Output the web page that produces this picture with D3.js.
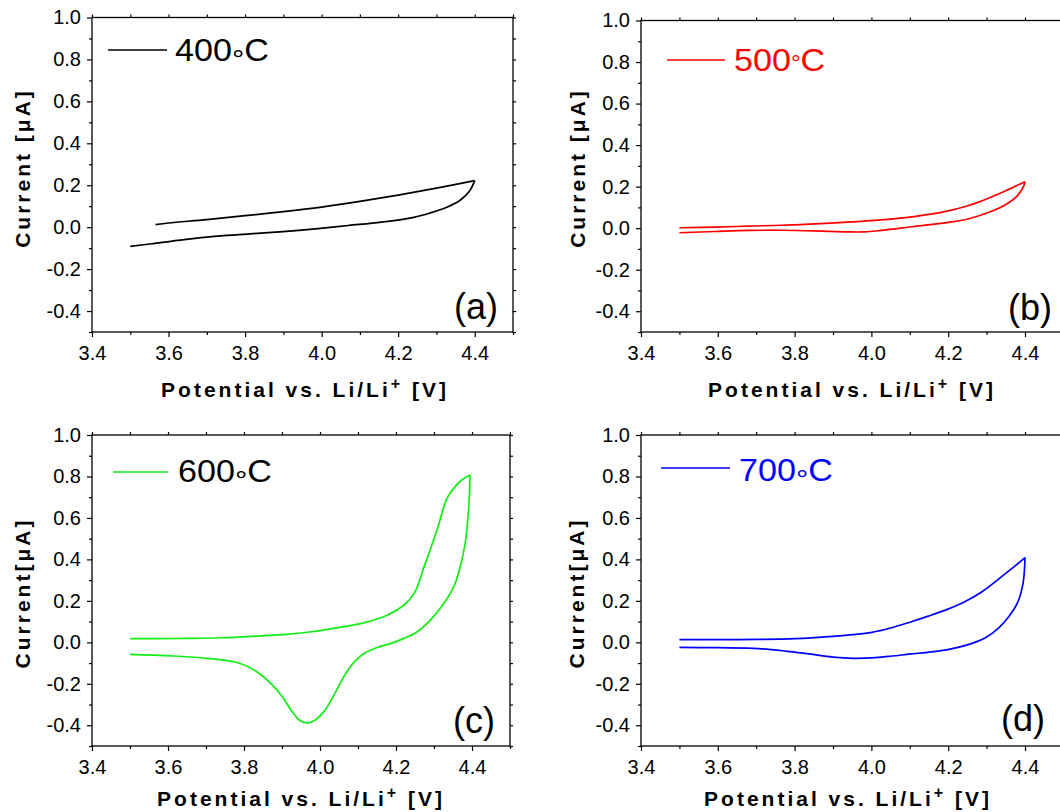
<!DOCTYPE html>
<html>
<head>
<meta charset="utf-8">
<script src="https://cdn.jsdelivr.net/npm/d3@7"></script>
<style>
  body { margin: 0; background: #fff; }
  svg { display: block; font-family: "Liberation Sans", Arial, sans-serif; }
</style>
</head>
<body>
<svg id="chart" width="1060" height="812"></svg>
<script>
// ticks
const xTicks = [3.4, 3.6, 3.8, 4.0, 4.2, 4.4];
const xMinor = [3.5, 3.7, 3.9, 4.1, 4.3, 4.5];
const yTicks = [-0.4, -0.2, 0.0, 0.2, 0.4, 0.6, 0.8, 1.0];
const yMinor = [-0.5, -0.3, -0.1, 0.1, 0.3, 0.5, 0.7, 0.9];

// (a) 400 C : anodic sweep then cathodic sweep
const vUp400 = [3.566, 3.600, 3.700, 3.800, 3.900, 4.000, 4.100, 4.200, 4.300, 4.400];
const iUp400 = [0.012, 0.020, 0.036, 0.055, 0.074, 0.096, 0.123, 0.153, 0.186, 0.222];
const vDn400 = [4.400, 4.387, 4.361, 4.327, 4.284, 4.241, 4.156, 4.070, 3.984, 3.899, 3.813, 3.727, 3.641, 3.556, 3.500];
const iDn400 = [0.222, 0.174, 0.127, 0.095, 0.068, 0.047, 0.024, 0.008, -0.008, -0.021, -0.032, -0.043, -0.059, -0.079, -0.092];

// (b) 500 C
const vUp500 = [3.500, 3.593, 3.679, 3.766, 3.852, 3.938, 4.025, 4.111, 4.197, 4.249, 4.283, 4.335, 4.400];
const iUp500 = [0.002, 0.005, 0.010, 0.014, 0.021, 0.029, 0.040, 0.056, 0.082, 0.107, 0.128, 0.168, 0.224];
const vDn500 = [4.400, 4.396, 4.378, 4.348, 4.318, 4.249, 4.197, 4.111, 4.025, 3.982, 3.938, 3.852, 3.766, 3.679, 3.593, 3.500];
const iDn500 = [0.224, 0.200, 0.152, 0.112, 0.085, 0.043, 0.027, 0.008, -0.011, -0.018, -0.018, -0.013, -0.010, -0.011, -0.016, -0.022];

// (c) 600 C
const vUp600 = [3.500, 3.571, 3.658, 3.745, 3.831, 3.918, 3.978, 4.048, 4.117, 4.178, 4.221, 4.248, 4.274, 4.308, 4.334, 4.352, 4.373, 4.395];
const iUp600 = [0.018, 0.018, 0.019, 0.022, 0.030, 0.040, 0.051, 0.071, 0.095, 0.132, 0.180, 0.236, 0.365, 0.542, 0.694, 0.743, 0.783, 0.807];
const vDn600 = [4.395, 4.391, 4.382, 4.369, 4.352, 4.326, 4.291, 4.256, 4.221, 4.187, 4.152, 4.117, 4.091, 4.065, 4.039, 4.013, 3.987, 3.970, 3.948, 3.927, 3.901, 3.875, 3.840, 3.788, 3.701, 3.614, 3.500];
const iDn600 = [0.807, 0.638, 0.477, 0.365, 0.268, 0.188, 0.108, 0.051, 0.019, -0.005, -0.024, -0.053, -0.093, -0.158, -0.246, -0.327, -0.375, -0.388, -0.378, -0.335, -0.262, -0.206, -0.150, -0.101, -0.077, -0.066, -0.058];

// (d) 700 C
const vUp700 = [3.500, 3.600, 3.702, 3.803, 3.900, 3.953, 4.001, 4.050, 4.102, 4.146, 4.199, 4.243, 4.287, 4.340, 4.375, 4.400];
const iUp700 = [0.013, 0.013, 0.014, 0.018, 0.029, 0.037, 0.048, 0.069, 0.098, 0.125, 0.160, 0.196, 0.243, 0.318, 0.370, 0.409];
const vDn700 = [4.400, 4.395, 4.380, 4.358, 4.331, 4.296, 4.252, 4.199, 4.146, 4.102, 4.050, 4.001, 3.953, 3.900, 3.838, 3.777, 3.706, 3.600, 3.500];
const iDn700 = [0.409, 0.286, 0.189, 0.125, 0.069, 0.021, -0.011, -0.035, -0.048, -0.056, -0.067, -0.075, -0.077, -0.071, -0.056, -0.042, -0.030, -0.026, -0.024];

const panels = [
  { tag: "(a)", temp: "400", color: "#000", textColor: "#000", up: [vUp400, iUp400], dn: [vDn400, iDn400],
    left: 92, xEnd: 513, top: 17.5, bottom: 332, yTitle: "Current [\u03bcA]",
    yt: [30, 168], xt: [305, 397], tagPos: [498, 319], leg: [108, 167, 50, 175, 61] },
  { tag: "(b)", temp: "500", color: "#ff0000", textColor: "#ff0000", up: [vUp500, iUp500], dn: [vDn500, iDn500],
    left: 641, xEnd: 1063.4, top: 20.5, bottom: 332, yTitle: "Current [\u03bcA]",
    yt: [585, 168], xt: [852, 397], tagPos: [1052, 320], leg: [667, 725, 60, 734, 71] },
  { tag: "(c)", temp: "600", color: "#11ee11", textColor: "#000", up: [vUp600, iUp600], dn: [vDn600, iDn600],
    left: 92, xEnd: 510, top: 435, bottom: 746, yTitle: "Current[\u03bcA]",
    yt: [30, 593], xt: [301, 806], tagPos: [495, 733], leg: [113, 168, 472, 178, 482] },
  { tag: "(d)", temp: "700", color: "#0000ff", textColor: "#0000ff", up: [vUp700, iUp700], dn: [vDn700, iDn700],
    left: 641, xEnd: 1063.4, top: 435, bottom: 746, yTitle: "Current[\u03bcA]",
    yt: [584, 593], xt: [848, 806], tagPos: [1045, 731], leg: [661, 730, 468, 739, 481] }
];

const svg = d3.select("#chart");

panels.forEach(p => {
  const x = d3.scaleLinear().domain([3.4, 4.5]).range([p.left, p.xEnd]);
  const y = d3.scaleLinear().domain([-0.5, 1.0]).range([p.bottom, p.top]);
  const g = svg.append("g");

  // frame
  g.append("rect")
    .attr("x", p.left).attr("y", p.top)
    .attr("width", p.xEnd - p.left).attr("height", p.bottom - p.top)
    .attr("fill", "none").attr("stroke", "#000").attr("stroke-width", 1.3);

  // bottom axis
  g.append("g").attr("transform", `translate(0,${p.bottom})`)
    .call(d3.axisBottom(x).tickValues(xTicks).tickSize(5).tickPadding(9).tickFormat(d => d.toFixed(1)));
  g.append("g").attr("transform", `translate(0,${p.bottom})`)
    .call(d3.axisBottom(x).tickValues(xMinor).tickSize(3).tickFormat(""));
  // top axis (mirror)
  g.append("g").attr("transform", `translate(0,${p.top})`)
    .call(d3.axisTop(x).tickValues(xTicks.concat(xMinor)).tickSize(3).tickFormat(""));
  // left axis
  g.append("g").attr("transform", `translate(${p.left},0)`)
    .call(d3.axisLeft(y).tickValues(yTicks).tickSize(5).tickPadding(6).tickFormat(d => d.toFixed(1)));
  g.append("g").attr("transform", `translate(${p.left},0)`)
    .call(d3.axisLeft(y).tickValues(yMinor).tickSize(3).tickFormat(""));
  // right axis (mirror)
  g.append("g").attr("transform", `translate(${p.xEnd},0)`)
    .call(d3.axisRight(y).tickValues(yTicks.concat(yMinor)).tickSize(3).tickFormat(""));

  g.selectAll(".domain").remove();
  g.selectAll(".tick line").attr("stroke", "#000").attr("stroke-width", 1.2);
  g.selectAll(".tick text")
    .attr("fill", "#000")
    .style("font-family", '"Liberation Sans", Arial, sans-serif')
    .style("font-size", "20px");

  // curves
  const line = d3.line()
    .x(d => x(d[0])).y(d => y(d[1]))
    .curve(d3.curveCatmullRom.alpha(0.5));
  [p.up, p.dn].forEach(branch => {
    const pts = branch[0].map((v, k) => [v, branch[1][k]]);
    g.append("path")
      .attr("d", line(pts))
      .attr("fill", "none")
      .attr("stroke", p.color)
      .attr("stroke-width", 1.7)
      .attr("stroke-linejoin", "round");
  });

  // legend
  g.append("line")
    .attr("x1", p.leg[0]).attr("x2", p.leg[1])
    .attr("y1", p.leg[2]).attr("y2", p.leg[2])
    .attr("stroke", p.color).attr("stroke-width", 1.7);
  const lt = g.append("text")
    .attr("transform", `translate(${p.leg[3]},${p.leg[4]}) scale(1.1,1)`)
    .attr("fill", p.textColor)
    .style("font-size", "31px");
  lt.append("tspan").text(p.temp);
  if (p.tag === "(b)") {
    // degree sign raised, right against the last digit
    lt.append("tspan").style("font-size", "22px").text("\u00b0");
    lt.append("tspan").text("C");
  } else {
    lt.append("tspan").attr("dy", 8).style("font-size", "28px").text("\u00b0");
    lt.append("tspan").attr("dy", -8).text("C");
  }

  // panel tag
  g.append("text")
    .attr("x", p.tagPos[0]).attr("y", p.tagPos[1])
    .attr("text-anchor", "end")
    .style("font-size", "36px")
    .text(p.tag);

  // x title
  const xt = g.append("text")
    .attr("x", p.xt[0]).attr("y", p.xt[1])
    .attr("text-anchor", "middle")
    .style("font-size", "21px").style("font-weight", "bold")
    .style("letter-spacing", "3px");
  xt.append("tspan").text("Potential vs. Li/Li");
  xt.append("tspan").attr("dy", -8).style("font-size", "16px").text("+");
  xt.append("tspan").attr("dy", 8).text(" [V]");

  // y title
  g.append("text")
    .attr("transform", `translate(${p.yt[0]},${p.yt[1]}) rotate(-90)`)
    .attr("text-anchor", "middle")
    .style("font-size", "21px").style("font-weight", "bold")
    .style("letter-spacing", "3px")
    .text(p.yTitle);
});
</script>
</body>
</html>
